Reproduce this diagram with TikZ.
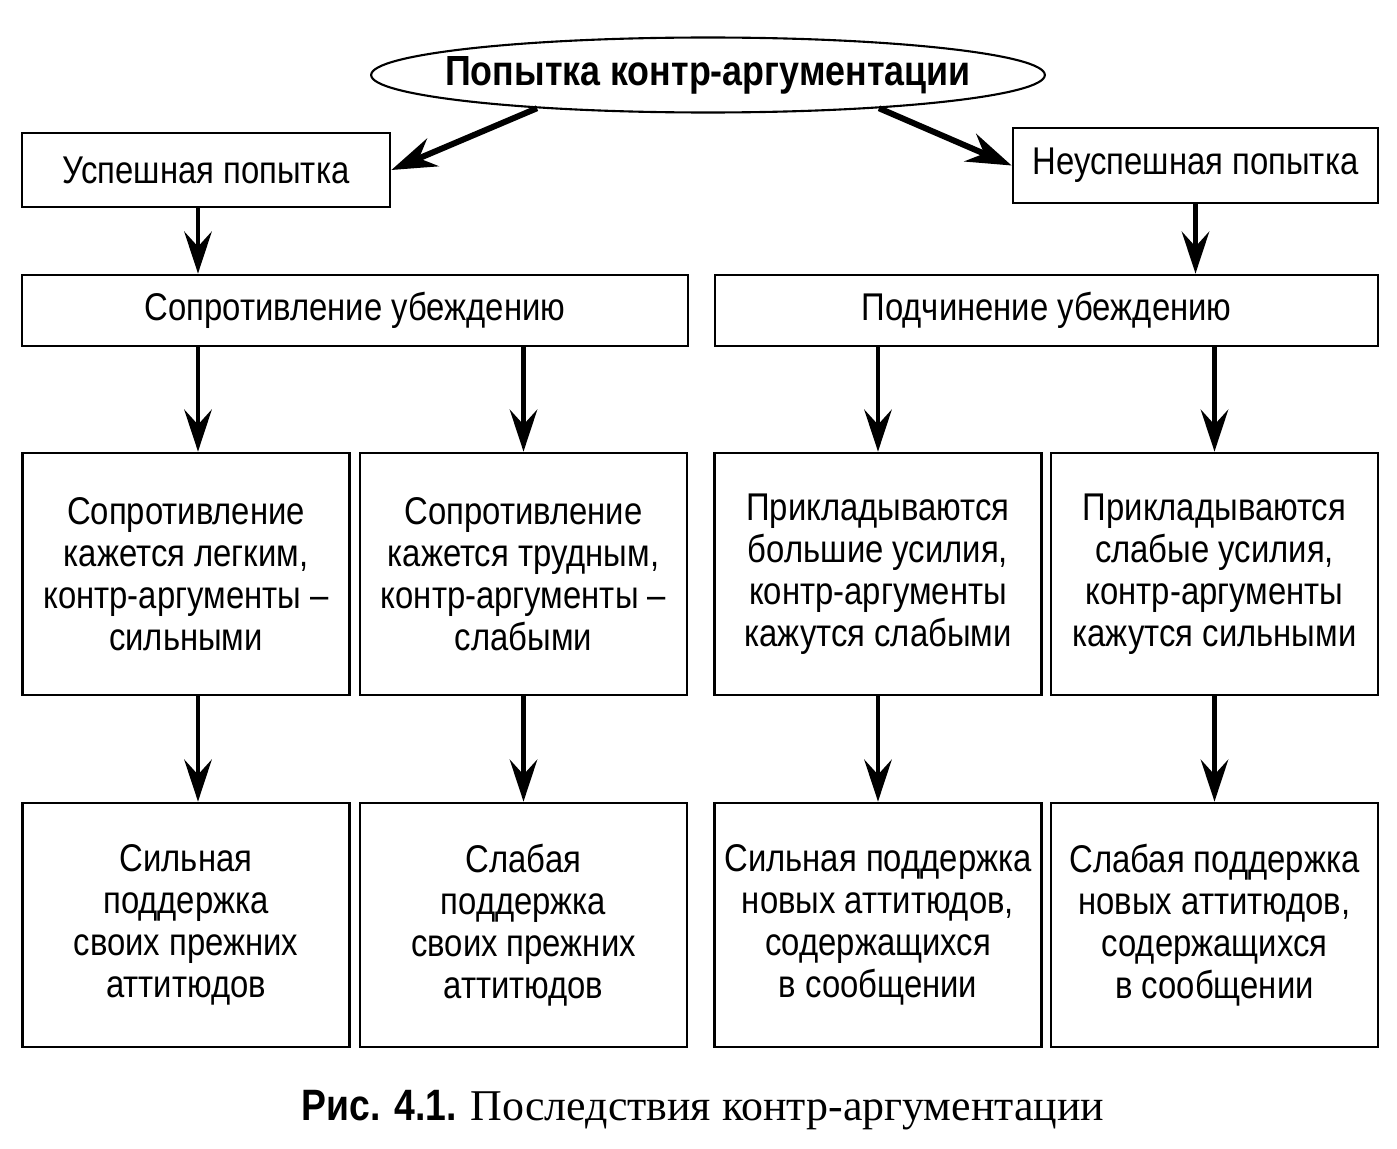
\documentclass[tikz,border=0pt]{standalone}
\usepackage{fontspec}
\setmainfont{Liberation Sans}[FakeStretch=0.85]
\newfontfamily\capserif{Liberation Serif}
\usetikzlibrary{calc, shapes.geometric, arrows.meta}

\begin{document}
\begin{tikzpicture}[x=0.02cm, y=-0.02cm,
  box/.style={draw, line width=1.6pt, align=center, inner sep=0pt,
    font=\fontsize{22}{24}\selectfont},
  wide/.style={box, minimum height=1.42cm},
  cell/.style={box, minimum width=6.54cm},
  arr/.style={line width=2.8pt, -{Stealth[length=0.84cm, width=0.55cm, inset=0.3cm]}},
  bigarr/.style={line width=3.4pt, -{Stealth[length=0.9cm, width=0.6cm, inset=0.3cm]}}]
  \useasboundingbox (0,0) rectangle (1397,1149);

  \node[box, ellipse, line width=1.2pt, inner xsep=-14pt, minimum width=13.46cm, minimum height=1.5cm,
    font=\fontsize{24}{26}\selectfont\bfseries]
    (try) at (708,75) {Попытка контр-аргументации};
  \node[box, minimum width=7.36cm, minimum height=1.48cm] (succ) at (206,170) {Успешная попытка};
  \node[box, minimum width=7.3cm, minimum height=1.5cm] (fail) at (1195.5,165.5) {Неуспешная попытка};

  \node[wide, minimum width=13.32cm] (res) at (355,310.5) {Сопротивление убеждению};
  \node[wide, minimum width=13.26cm] (sub) at (1046.5,310.5) {Подчинение убеждению};

  \node[cell, minimum height=4.84cm] (a1) at (186,574)
    {Сопротивление\\кажется легким,\\контр-аргументы –\\сильными};
  \node[cell, minimum height=4.84cm] (a2) at (523.5,574)
    {Сопротивление\\кажется трудным,\\контр-аргументы –\\слабыми};
  \node[cell, minimum height=4.84cm] (a3) at (878,574)
    {Прикладываются\\большие усилия,\\контр-аргументы\\кажутся слабыми};
  \node[cell, minimum height=4.84cm] (a4) at (1214.5,574)
    {Прикладываются\\слабые усилия,\\контр-аргументы\\кажутся сильными};

  \node[cell, minimum height=4.88cm] (b1) at (186,925)
    {Сильная\\поддержка\\своих прежних\\аттитюдов};
  \node[cell, minimum height=4.88cm] (b2) at (523.5,925)
    {Слабая\\поддержка\\своих прежних\\аттитюдов};
  \node[cell, minimum height=4.88cm] (b3) at (878,925)
    {Сильная поддержка\\новых аттитюдов,\\содержащихся\\в сообщении};
  \node[cell, minimum height=4.88cm] (b4) at (1214.5,925)
    {Слабая поддержка\\новых аттитюдов,\\содержащихся\\в сообщении};

  \node (cap) at (703,1110) {\fontsize{25}{28}\selectfont\bfseries Рис. 4.1.
    \capserif\mdseries Последствия контр-аргументации};

  \coordinate (p1) at ($(a1.north)+(12,0)$);
  \coordinate (q1) at ($(a1.south)+(12,0)$);
  \coordinate (ps) at ($(succ.south)+(-8,0)$);

  \draw[bigarr] (try.191) -- (succ.east);
  \draw[bigarr] (try.349) -- (fail.west);
  \draw[arr] (ps) -- (ps |- res.north);
  \draw[arr] (fail.south) -- (fail.south |- sub.north);

  \draw[arr] (res.south -| p1) -- (p1);
  \draw[arr] (res.south -| a2.north) -- (a2.north);
  \draw[arr] (sub.south -| a3.north) -- (a3.north);
  \draw[arr] (sub.south -| a4.north) -- (a4.north);

  \draw[arr] (q1) -- (q1 |- b1.north);
  \draw[arr] (a2.south) -- (b2.north);
  \draw[arr] (a3.south) -- (b3.north);
  \draw[arr] (a4.south) -- (b4.north);
\end{tikzpicture}
\end{document}
